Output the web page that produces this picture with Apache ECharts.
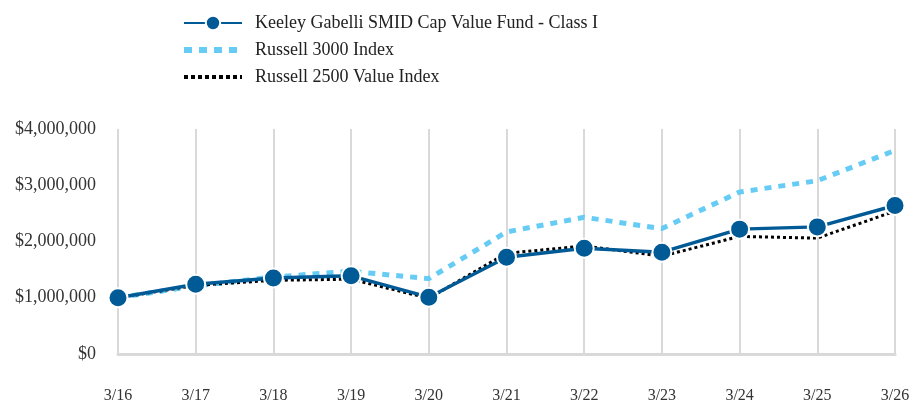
<!DOCTYPE html>
<html>
<head>
<meta charset="utf-8">
<script src="https://cdn.jsdelivr.net/npm/echarts@6/dist/echarts.min.js"></script>
<style>
  html, body { margin: 0; padding: 0; background: #fff; }
  #growth { width: 913px; height: 402px; }
</style>
</head>
<body>
<div id="growth"></div>
<script>
// 类目和数值
var dateList = ['3/16', '3/17', '3/18', '3/19', '3/20', '3/21', '3/22', '3/23', '3/24', '3/25', '3/26'];
var fundValues = [1000000, 1240000, 1350000, 1390000, 1010000, 1720000, 1880000, 1810000, 2220000, 2260000, 2640000];
var r3000Values = [1000000, 1210000, 1370000, 1470000, 1340000, 2170000, 2430000, 2230000, 2880000, 3080000, 3620000];
var r2500Values = [1000000, 1220000, 1310000, 1330000, 990000, 1790000, 1920000, 1740000, 2090000, 2060000, 2540000];
var yTicks = [0, 1000000, 2000000, 3000000, 4000000];

var growthChart = echarts.init(document.getElementById('growth'));

function money(v) {
    return '$' + String(v).replace(/\B(?=(\d{3})+(?!\d))/g, ',');
}

growthChart.setOption({
    animation: false,
    textStyle: {
        fontFamily: 'Liberation Serif'
    },
    legend: {
        orient: 'vertical',
        left: 176,
        top: 9,
        itemWidth: 58,
        itemHeight: 18,
        itemGap: 9,
        textStyle: {
            color: '#222',
            fontSize: 18,
            fontFamily: 'Liberation Serif',
            padding: [0, 0, 0, 8]
        },
        data: [{
            name: 'Keeley Gabelli SMID Cap Value Fund - Class I'
        }, {
            name: 'Russell 3000 Index',
            itemStyle: {opacity: 0},
            lineStyle: {width: 6, type: [8, 7]}
        }, {
            name: 'Russell 2500 Value Index',
            itemStyle: {opacity: 0},
            lineStyle: {width: 4, type: [4, 3]}
        }]
    },
    grid: {
        left: 118,
        right: 18,
        top: 129,
        bottom: 48,
        outerBoundsMode: 'none'
    },
    xAxis: [{
        type: 'category',
        data: dateList,
        boundaryGap: false,
        axisTick: {show: false},
        axisLine: {
            lineStyle: {
                color: '#d9d9d9',
                width: 3
            }
        },
        axisLabel: {
            color: '#333',
            fontSize: 16,
            margin: 34
        },
        splitLine: {
            show: true,
            lineStyle: {
                color: '#d9d9d9',
                width: 2
            }
        }
    }],
    yAxis: [{
        type: 'value',
        min: yTicks[0],
        max: yTicks[yTicks.length - 1],
        interval: 1000000,
        axisLine: {show: false},
        axisTick: {show: false},
        splitLine: {show: false},
        axisLabel: {
            color: '#333',
            fontSize: 18,
            margin: 22,
            formatter: money
        }
    }],
    series: [{
        name: 'Russell 3000 Index',
        type: 'line',
        data: r3000Values,
        symbol: 'none',
        z: 2,
        lineStyle: {
            color: '#66ccf5',
            width: 5,
            type: [7, 7]
        },
        itemStyle: {color: '#66ccf5'}
    }, {
        name: 'Russell 2500 Value Index',
        type: 'line',
        data: r2500Values,
        symbol: 'none',
        z: 3,
        lineStyle: {
            color: '#000',
            width: 3,
            type: [3, 3]
        },
        itemStyle: {color: '#000'}
    }, {
        name: 'Keeley Gabelli SMID Cap Value Fund - Class I',
        type: 'line',
        data: fundValues,
        symbol: 'circle',
        symbolSize: 19,
        z: 4,
        lineStyle: {
            color: '#005a96',
            width: 3.5
        },
        itemStyle: {
            color: '#005a96',
            borderColor: '#fff',
            borderWidth: 2
        }
    }]
});
</script>
</body>
</html>
